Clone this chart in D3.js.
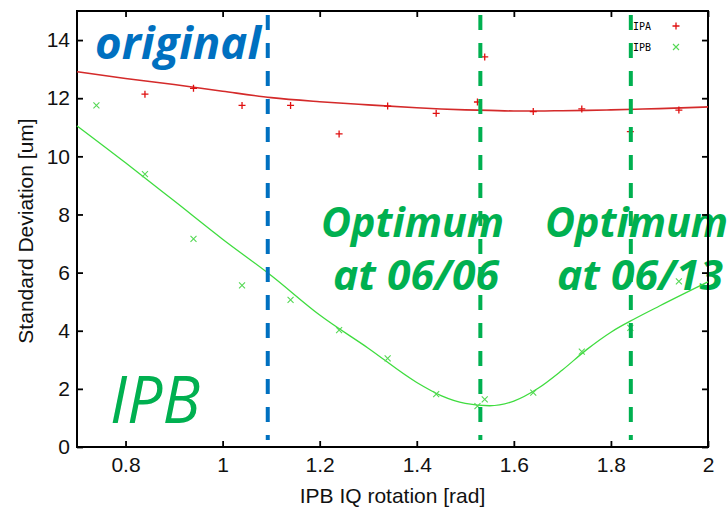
<!DOCTYPE html>
<html>
<head>
<meta charset="utf-8">
<script src="https://cdn.jsdelivr.net/npm/d3@7"></script>
<style>
  body { margin: 0; background: #fff; }
  .axis text { font-family: "Liberation Sans", Arial, sans-serif; font-size: 21px; fill: #111; }
  .axis line { stroke: #000; stroke-width: 1.8; }
  .axis path { display: none; }
</style>
</head>
<body>
<script>
// measured points (rotation in rad, std dev in um)
var rotIPA = [0.84, 0.94, 1.04, 1.14, 1.24, 1.34, 1.44, 1.525, 1.54, 1.64, 1.74, 1.84, 1.94];
var sdIPA  = [12.14, 12.34, 11.75, 11.75, 10.77, 11.73, 11.48, 11.87, 13.42, 11.54, 11.63, 10.85, 11.59];

var rotIPB = [0.74, 0.84, 0.94, 1.04, 1.14, 1.24, 1.34, 1.44, 1.525, 1.54, 1.64, 1.74, 1.84, 1.94];
var sdIPB  = [11.75, 9.39, 7.16, 5.56, 5.06, 4.02, 3.05, 1.82, 1.41, 1.64, 1.87, 3.28, 4.10, 5.70];

// fitted curves
var fitRot = [0.7, 0.8, 0.9, 1.0, 1.1, 1.2, 1.3, 1.4, 1.45, 1.5, 1.55, 1.6, 1.65, 1.7, 1.75, 1.8, 1.85, 1.9, 2.0];
var fitIPA = [12.91, 12.68, 12.47, 12.24, 12.02, 11.88, 11.77, 11.67, 11.63, 11.60, 11.58, 11.56, 11.56, 11.57, 11.58, 11.60, 11.62, 11.64, 11.70];
var fitIPB = [11.05, 9.78, 8.47, 7.15, 5.90, 4.54, 3.40, 2.22, 1.77, 1.50, 1.42, 1.58, 2.02, 2.65, 3.35, 3.95, 4.42, 4.85, 5.68];

// vertical markers: original setting and the two optimum settings
var markRot = [1.093, 1.531, 1.841];

var xTicks = [0.8, 1, 1.2, 1.4, 1.6, 1.8, 2];
var yTicks = [0, 2, 4, 6, 8, 10, 12, 14];

var W = 728, H = 512;
var pLeft = 77, pRight = 708, pTop = 11, pBottom = 447;

var blue = "#0070C0", green = "#00B050";

var svg = d3.select("body").append("svg")
  .attr("width", W)
  .attr("height", H);

var x = d3.scaleLinear().domain([0.7, 2.0]).range([pLeft, pRight]);
var y = d3.scaleLinear().domain([0, 15]).range([pBottom, pTop]);

// overlay texts (drawn first, plot lines go on top)
var big = svg.append("g")
  .style("font-family", "'Open Sans', Lato, sans-serif");

big.append("text")
  .attr("x", 95).attr("y", 59)
  .attr("textLength", 166).attr("lengthAdjust", "spacingAndGlyphs")
  .style("font-size", "45px").style("font-weight", "bold").style("font-style", "italic")
  .style("fill", blue)
  .text("original");

var opt = [["at 06/06", 321, 333], ["at 06/13", 545, 557]];
opt.forEach(function(o){
  big.append("text")
    .attr("x", o[1]).attr("y", 237)
    .attr("textLength", 183).attr("lengthAdjust", "spacingAndGlyphs")
    .style("font-size", "41px").style("font-weight", "bold").style("font-style", "italic")
    .style("fill", green)
    .text("Optimum");
  big.append("text")
    .attr("x", o[2]).attr("y", 290)
    .attr("textLength", 166).attr("lengthAdjust", "spacingAndGlyphs")
    .style("font-size", "41px").style("font-weight", "bold").style("font-style", "italic")
    .style("fill", green)
    .text(o[0]);
});

big.append("text")
  .attr("x", 110).attr("y", 423)
  .attr("textLength", 90).attr("lengthAdjust", "spacingAndGlyphs")
  .style("font-size", "65px").style("font-style", "italic")
  .style("fill", green)
  .text("IPB");

// axes with inward ticks on all four sides
svg.append("g").attr("class", "axis")
  .attr("transform", "translate(0," + pBottom + ")")
  .call(d3.axisBottom(x).tickValues(xTicks).tickSizeInner(-6).tickSizeOuter(0).tickPadding(10)
    .tickFormat(function(d){ return String(d); }));

svg.append("g").attr("class", "axis")
  .attr("transform", "translate(0," + pTop + ")")
  .call(d3.axisTop(x).tickValues(xTicks).tickSizeInner(-6).tickSizeOuter(0).tickFormat(""));

svg.append("g").attr("class", "axis")
  .attr("transform", "translate(" + pLeft + ",0)")
  .call(d3.axisLeft(y).tickValues(yTicks).tickSizeInner(-6).tickSizeOuter(0).tickPadding(7));

svg.append("g").attr("class", "axis")
  .attr("transform", "translate(" + pRight + ",0)")
  .call(d3.axisRight(y).tickValues(yTicks).tickSizeInner(-6).tickSizeOuter(0).tickFormat(""));

// frame
svg.append("rect")
  .attr("x", pLeft).attr("y", pTop)
  .attr("width", pRight - pLeft).attr("height", pBottom - pTop)
  .style("fill", "none").style("stroke", "#000").style("stroke-width", 2);

// axis titles
svg.append("text")
  .attr("x", (pLeft + pRight) / 2).attr("y", 503)
  .attr("text-anchor", "middle")
  .style("font-family", "'Liberation Sans', Arial, sans-serif").style("font-size", "21px")
  .style("fill", "#111")
  .text("IPB IQ rotation [rad]");

svg.append("text")
  .attr("transform", "translate(33,231) rotate(-90)")
  .attr("text-anchor", "middle")
  .style("font-family", "'Liberation Sans', Arial, sans-serif").style("font-size", "21px")
  .style("fill", "#111")
  .text("Standard Deviation [um]");

// fit lines
var line = d3.line()
  .x(function(d){ return x(d[0]); })
  .y(function(d){ return y(d[1]); })
  .curve(d3.curveMonotoneX);

svg.append("path")
  .datum(d3.zip(fitRot, fitIPA))
  .attr("d", line)
  .style("fill", "none").style("stroke", "#d42a2a").style("stroke-width", 1.6);

svg.append("path")
  .datum(d3.zip(fitRot, fitIPB))
  .attr("d", line)
  .style("fill", "none").style("stroke", "#3fdc3f").style("stroke-width", 1.3);

// IPA points: plus signs
var s = 3.5;
svg.selectAll(".ipa")
  .data(d3.zip(rotIPA, sdIPA))
  .enter().append("path")
  .attr("class", "ipa")
  .attr("d", function(d){
    var cx = x(d[0]), cy = y(d[1]);
    return "M" + (cx - s) + "," + cy + "H" + (cx + s) + "M" + cx + "," + (cy - s) + "V" + (cy + s);
  })
  .style("stroke", "#e01010").style("stroke-width", 1.3);

// IPB points: crosses
var c = 3;
svg.selectAll(".ipb")
  .data(d3.zip(rotIPB, sdIPB))
  .enter().append("path")
  .attr("class", "ipb")
  .attr("d", function(d){
    var cx = x(d[0]), cy = y(d[1]);
    return "M" + (cx - c) + "," + (cy - c) + "L" + (cx + c) + "," + (cy + c) +
           "M" + (cx - c) + "," + (cy + c) + "L" + (cx + c) + "," + (cy - c);
  })
  .style("stroke", "#55d855").style("stroke-width", 1.1);

// dashed marker lines
var markColor = [blue, green, green];
svg.selectAll(".mark")
  .data(markRot)
  .enter().append("line")
  .attr("class", "mark")
  .attr("x1", function(d){ return x(d); }).attr("x2", function(d){ return x(d); })
  .attr("y1", 15).attr("y2", 440)
  .style("stroke", function(d, i){ return markColor[i]; })
  .style("stroke-width", 4)
  .style("stroke-dasharray", "15,13");

// legend
var legend = svg.append("g")
  .style("font-family", "'DejaVu Sans Mono', monospace").style("font-size", "10px");
var keys = [["IPA", "#e01010"], ["IPB", "#55d855"]];
keys.forEach(function(k, i){
  var ly = 26 + i * 21;
  legend.append("text").attr("x", 633).attr("y", ly + 4).style("fill", "#000").text(k[0]);
  var cx = 676;
  legend.append("path")
    .attr("d", i === 0
      ? "M" + (cx - s) + "," + ly + "H" + (cx + s) + "M" + cx + "," + (ly - s) + "V" + (ly + s)
      : "M" + (cx - c) + "," + (ly - c) + "L" + (cx + c) + "," + (ly + c) + "M" + (cx - c) + "," + (ly + c) + "L" + (cx + c) + "," + (ly - c))
    .style("stroke", k[1]).style("stroke-width", i === 0 ? 1.3 : 1.1);
});
</script>
</body>
</html>
